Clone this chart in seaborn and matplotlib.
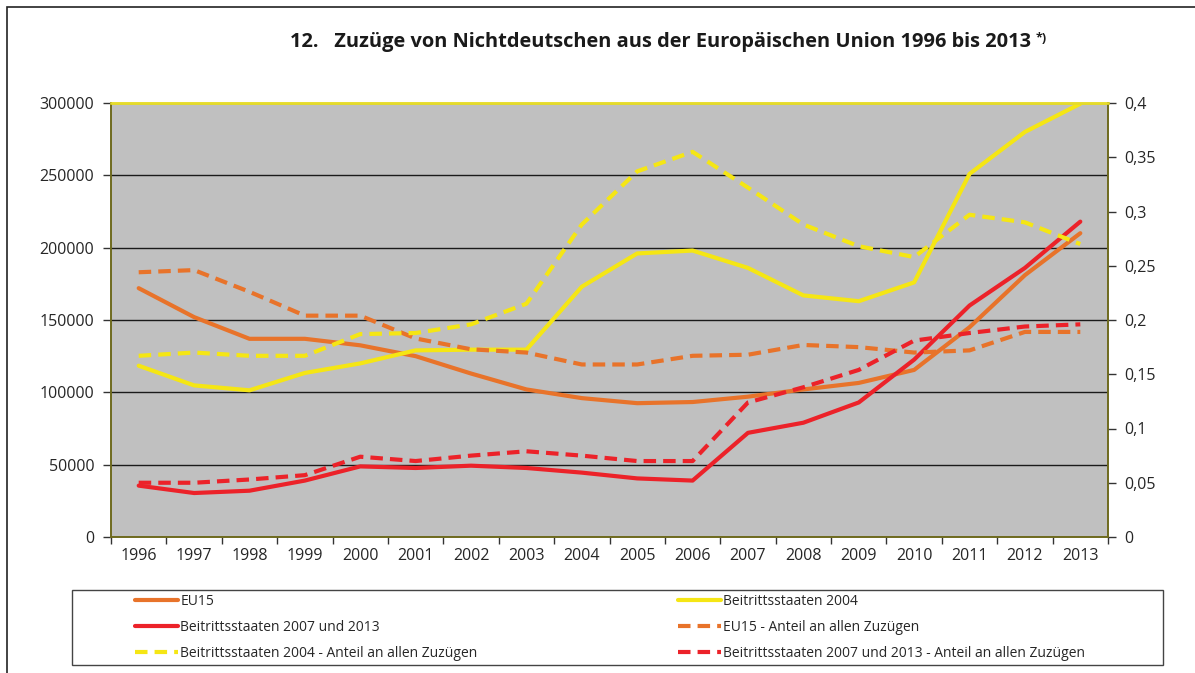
import matplotlib.pyplot as plt
import seaborn as sns
from matplotlib.patches import Rectangle
from matplotlib.ticker import FuncFormatter, MultipleLocator

# Data
years = list(range(1996, 2014))
eu15 = [172000, 152000, 137000, 137000, 132500, 125000, 113000, 102000, 96000,
        92500, 93300, 97000, 102000, 106500, 115500, 145000, 181000, 210000]
b2004 = [118400, 104800, 101400, 113400, 120000, 129000, 129500, 129500, 173000,
         196000, 198000, 186000, 167000, 163000, 176000, 251000, 280000, 299500]
b2007 = [35500, 30400, 32000, 39000, 48800, 47700, 49300, 47700, 44500,
         40500, 39000, 72000, 79000, 93000, 122600, 160000, 186000, 218000]
eu15_share = [0.244, 0.246, 0.226, 0.204, 0.204, 0.183, 0.173, 0.170, 0.159,
              0.159, 0.167, 0.168, 0.177, 0.175, 0.170, 0.172, 0.189, 0.189]
b2004_share = [0.167, 0.170, 0.167, 0.167, 0.187, 0.188, 0.196, 0.215, 0.288,
               0.337, 0.355, 0.322, 0.288, 0.268, 0.258, 0.297, 0.290, 0.270]
b2007_share = [0.050, 0.050, 0.053, 0.057, 0.074, 0.070, 0.075, 0.079, 0.075,
               0.070, 0.070, 0.124, 0.138, 0.154, 0.181, 0.188, 0.194, 0.196]

labels = ['EU15', 'Beitrittsstaaten 2004', 'Beitrittsstaaten 2007 und 2013',
          'EU15 - Anteil an allen Zuzügen',
          'Beitrittsstaaten 2004 - Anteil an allen Zuzügen',
          'Beitrittsstaaten 2007 und 2013 - Anteil an allen Zuzügen']

orange = '#E8732A'
yellow = '#F5E614'
red = '#EC2229'
dash = (0, (3.0, 1.7))

sns.set_theme(style="white")
plt.rcParams['font.family'] = ['Open Sans', 'DejaVu Sans']

fig = plt.figure(figsize=(11.95, 6.73), dpi=100)
ax = fig.add_axes([111 / 1195, 1 - 537 / 673, 997 / 1195, 434 / 673])
ax.set_facecolor('#C0C0C0')
ax2 = ax.twinx()

# Absolute numbers (left axis)
sns.lineplot(x=years, y=eu15, ax=ax, color=orange, lw=3, label=labels[0], legend=False)
sns.lineplot(x=years, y=b2004, ax=ax, color=yellow, lw=3, label=labels[1], legend=False)
sns.lineplot(x=years, y=b2007, ax=ax, color=red, lw=3, label=labels[2], legend=False)

# Shares (right axis)
for vals, col, lab in [(eu15_share, orange, labels[3]),
                       (b2004_share, yellow, labels[4]),
                       (b2007_share, red, labels[5])]:
    sns.lineplot(x=years, y=vals, ax=ax2, color=col, lw=3, label=lab, legend=False)
    ax2.lines[-1].set_linestyle(dash)

ax.set_xlim(1995.5, 2013.5)
ax.set_ylim(0, 300000)
ax2.set_ylim(0, 0.4)

ax.yaxis.set_major_locator(MultipleLocator(50000))
ax.yaxis.set_major_formatter(FuncFormatter(lambda v, p: f"{int(v)}"))
ax2.yaxis.set_major_locator(MultipleLocator(0.05))
ax2.yaxis.set_major_formatter(FuncFormatter(lambda v, p: f"{v:g}".replace('.', ',')))

ax.set_xticks(years)
ax.set_xticklabels([str(y) for y in years])
ax.set_xticks([y + 0.5 for y in range(1995, 2014)], minor=True)
ax.tick_params(axis='x', which='major', length=0, pad=8, labelsize=11.5)
ax.tick_params(axis='x', which='minor', length=5, width=1, color='#333333', direction='out', bottom=True)
ax.tick_params(axis='y', length=6, width=1, color='#333333', direction='out', left=True, labelsize=11.5, pad=6)
ax2.tick_params(axis='y', length=6, width=1, color='#333333', direction='out', right=True, labelsize=11.5, pad=6)

ax.grid(axis='y', color='#1a1a1a', lw=1)
ax.grid(axis='x', visible=False)
ax.set_axisbelow(True)
ax2.grid(False)

for a in (ax, ax2):
    for side in ('left', 'bottom', 'right'):
        a.spines[side].set_color('#6e6a1e')
        a.spines[side].set_linewidth(1.2)
    a.spines['top'].set_color('#E6DC2A')
    a.spines['top'].set_linewidth(1.8)
    a.set_xlabel('')
    a.set_ylabel('')

# Title
title = fig.text(660 / 1195, 1 - 42 / 673,
                 "12.   Zuzüge von Nichtdeutschen aus der Europäischen Union 1996 bis 2013",
                 ha='center', va='center', fontsize=14.4, weight='bold', color='#1a1a1a')
ax.annotate("*)", xy=(1, 1), xycoords=title, xytext=(4, 0), textcoords='offset points',
            ha='left', va='top', fontsize=9, weight='bold', color='#1a1a1a')

# Outer frame and legend box
fig.patches.append(Rectangle((7 / 1195, -0.05), 1.2, 1.05 - 7 / 673, transform=fig.transFigure,
                             fill=False, edgecolor='#222222', lw=1.2))
fig.patches.append(Rectangle((72 / 1195, 1 - 665 / 673), 1091 / 1195, 75 / 673,
                             transform=fig.transFigure, fill=False, edgecolor='#444444', lw=1))

h1, l1 = ax.get_legend_handles_labels()
h2, l2 = ax2.get_legend_handles_labels()
handles = h1 + h2
col1 = [0, 2, 4]
col2 = [1, 3, 5]
leg_kw = dict(frameon=False, fontsize=10, handlelength=3.1, handletextpad=0.15,
              labelspacing=0.78, borderpad=0, borderaxespad=0, loc='upper left')
fig.legend([handles[i] for i in col1], [labels[i] for i in col1],
           bbox_to_anchor=(135 / 1195, 1 - 594 / 673), **leg_kw)
fig.legend([handles[i] for i in col2], [labels[i] for i in col2],
           bbox_to_anchor=(678 / 1195, 1 - 594 / 673), **leg_kw)

plt.savefig('out.png', dpi=100)
